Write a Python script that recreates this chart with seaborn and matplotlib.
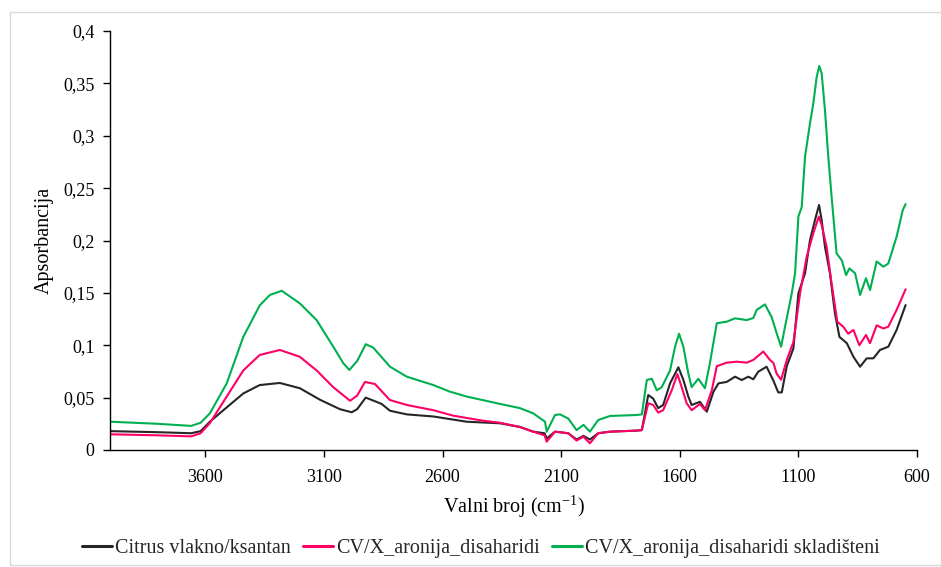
import numpy as np
import pandas as pd
import matplotlib
matplotlib.use("Agg")
import matplotlib.pyplot as plt
import matplotlib.ticker as mticker
from matplotlib.patches import Rectangle
from matplotlib.lines import Line2D
import seaborn as sns

# ---------------- data ----------------
series_names = ["Citrus vlakno/ksantan", "CV/X_aronija_disaharidi",
                "CV/X_aronija_disaharidi skladišteni"]
series_colors = ["#262626", "#FF0066", "#00B050"]

wn_black = [4000, 3800, 3660, 3620, 3581, 3524, 3440, 3371, 3286, 3202, 3117, 3033,
            2983, 2960, 2924, 2890, 2857, 2822, 2751, 2639, 2498, 2358, 2274, 2218,
            2170, 2161, 2126, 2070, 2035, 2006, 1979, 1944, 1894, 1782, 1760, 1733,
            1712, 1691, 1670, 1641, 1606, 1585, 1564, 1550, 1515, 1486, 1458, 1437,
            1402, 1367, 1339, 1311, 1290, 1269, 1234, 1205, 1185, 1170, 1149, 1121,
            1100, 1072, 1051, 1030, 1013, 1002, 988, 967, 946, 927, 896, 868, 840,
            812, 784, 756, 721, 686, 648]
ab_black = [0.018, 0.017, 0.016, 0.018, 0.027, 0.038, 0.054, 0.062, 0.064, 0.059, 0.048, 0.039,
            0.036, 0.039, 0.050, 0.047, 0.044, 0.0375, 0.034, 0.032, 0.027, 0.0255, 0.022, 0.0175,
            0.016, 0.011, 0.0175, 0.016, 0.010, 0.0135, 0.010, 0.016, 0.0175, 0.0185, 0.019, 0.0525,
            0.049, 0.040, 0.043, 0.0636, 0.079, 0.067, 0.051, 0.043, 0.046, 0.0366, 0.0557, 0.0636,
            0.065, 0.070, 0.0668, 0.070, 0.0675, 0.0748, 0.0795, 0.066, 0.055, 0.055, 0.080, 0.097,
            0.1496, 0.1687, 0.2005, 0.2196, 0.2339, 0.2196, 0.194, 0.1687, 0.1305, 0.108, 0.102, 0.089, 0.0795,
            0.0875, 0.0875, 0.0955, 0.0986, 0.1146, 0.1384]

wn_pink = [4000, 3800, 3660, 3620, 3581, 3510, 3440, 3371, 3286, 3202, 3131, 3061,
           2990, 2960, 2927, 2885, 2822, 2751, 2639, 2556, 2430, 2358, 2274, 2218,
           2170, 2161, 2126, 2070, 2035, 2006, 1979, 1944, 1894, 1782, 1760, 1733,
           1712, 1691, 1670, 1634, 1610, 1592, 1571, 1550, 1515, 1494, 1465, 1444,
           1402, 1360, 1318, 1290, 1248, 1220, 1205, 1192, 1173, 1149, 1121, 1093,
           1065, 1037, 1014, 1002, 981, 960, 936, 911, 890, 868, 843, 815, 798,
           770, 742, 721, 686, 648]
ab_pink = [0.015, 0.014, 0.013, 0.016, 0.0257, 0.051, 0.076, 0.0907, 0.0955, 0.089, 0.076, 0.060,
           0.047, 0.052, 0.065, 0.063, 0.0477, 0.043, 0.038, 0.0328, 0.028, 0.026, 0.022, 0.0175,
           0.014, 0.008, 0.0175, 0.016, 0.009, 0.0127, 0.0064, 0.016, 0.0175, 0.0185, 0.019, 0.0446,
           0.043, 0.0357, 0.038, 0.057, 0.0725, 0.060, 0.0446, 0.038, 0.044, 0.038, 0.057, 0.080,
           0.0834, 0.0843, 0.0834, 0.086, 0.094, 0.086, 0.083, 0.073, 0.067, 0.086, 0.103, 0.1496,
           0.1845, 0.207, 0.2228, 0.2148, 0.194, 0.159, 0.1225, 0.1177, 0.111, 0.1146, 0.100, 0.1098, 0.102,
           0.119, 0.116, 0.1177, 0.1337, 0.1534]

wn_green = [4000, 3800, 3660, 3620, 3581, 3510, 3440, 3371, 3328, 3278, 3202, 3131,
            3061, 3019, 2993, 2960, 2924, 2892, 2822, 2751, 2639, 2569, 2498, 2358,
            2274, 2218, 2168, 2161, 2126, 2105, 2070, 2035, 2006, 1979, 1944, 1894,
            1782, 1760, 1739, 1718, 1697, 1676, 1641, 1620, 1603, 1585, 1564, 1550,
            1522, 1494, 1473, 1444, 1402, 1367, 1318, 1290, 1276, 1241, 1213, 1191,
            1173, 1156, 1128, 1114, 1100, 1086, 1072, 1051, 1037, 1023, 1012, 1002,
            988, 974, 960, 939, 917, 899, 885, 861, 840, 815, 798, 770, 742, 721,
            686, 660, 648]
ab_green = [0.027, 0.025, 0.023, 0.026, 0.035, 0.0636, 0.108, 0.138, 0.148, 0.152, 0.140, 0.124,
            0.0987, 0.083, 0.0764, 0.085, 0.101, 0.0977, 0.0796, 0.070, 0.062, 0.0557, 0.051, 0.044,
            0.040, 0.035, 0.027, 0.0175, 0.0334, 0.034, 0.030, 0.019, 0.024, 0.0175, 0.0286, 0.0325,
            0.0334, 0.034, 0.0668, 0.068, 0.057, 0.060, 0.076, 0.0986, 0.111, 0.0986, 0.073, 0.060,
            0.068, 0.059, 0.083, 0.121, 0.1225, 0.1257, 0.124, 0.126, 0.1337, 0.139, 0.127, 0.111,
            0.0986, 0.118, 0.1496, 0.1687, 0.2228, 0.232, 0.280, 0.312, 0.331, 0.356, 0.3666, 0.3596,
            0.3246, 0.280, 0.2418, 0.1877, 0.181, 0.167, 0.1734, 0.1687, 0.148, 0.164, 0.1527, 0.180, 0.175, 0.178,
            0.2036, 0.229, 0.2348]

x_ticks = [3600, 3100, 2600, 2100, 1600, 1100, 600]
y_ticks = [0, 0.05, 0.1, 0.15, 0.2, 0.25, 0.3, 0.35, 0.4]

# ---------------- build long table ----------------
frames = []
for name, wn, ab in zip(series_names, [wn_black, wn_pink, wn_green],
                        [ab_black, ab_pink, ab_green]):
    frames.append(pd.DataFrame({"wn": wn, "ab": ab, "series": name}))
df = pd.concat(frames, ignore_index=True)

# ---------------- style ----------------
sns.set_theme(style="white")
plt.rcParams["font.family"] = ["Liberation Serif", "DejaVu Serif"]
plt.rcParams["mathtext.fontset"] = "custom"
plt.rcParams["mathtext.rm"] = "Liberation Serif"
plt.rcParams["mathtext.it"] = "Liberation Serif:italic"

fig = plt.figure(figsize=(9.41, 5.67), dpi=100)
ax = fig.add_axes([110 / 941, 1 - 450 / 567, (917 - 110) / 941, (450 - 31) / 567])

sns.lineplot(data=df, x="wn", y="ab", hue="series", hue_order=series_names,
             palette=series_colors, sort=False, estimator=None, linewidth=1.5,
             ax=ax, legend=False)

ax.set_xlim(4002, 600)
ax.set_ylim(0, 0.4)
ax.set_xticks(x_ticks)
ax.set_yticks(y_ticks)
ax.yaxis.set_major_formatter(mticker.FuncFormatter(
    lambda v, p: f"{v:g}".replace(".", ",")))
ax.xaxis.set_major_formatter(mticker.FuncFormatter(lambda v, p: f"{int(round(v))}"))

for s in ["top", "right"]:
    ax.spines[s].set_visible(False)
for s in ["left", "bottom"]:
    ax.spines[s].set_color("black")
    ax.spines[s].set_linewidth(1.0)
ax.tick_params(axis="both", direction="out", length=5, width=1, color="black",
               labelsize=13, labelcolor="black", bottom=True, left=True, pad=9)
ax.tick_params(axis="y", pad=6)

ax.set_xlabel("Valni broj (cm$^{-1}$)", fontsize=14.5, color="black", labelpad=5)
ax.set_ylabel("Apsorbancija", fontsize=14.5, color="black", labelpad=7)
ax.grid(False)

# legend
handles = [Line2D([0], [0], color=c, lw=2.2) for c in series_colors]
fig.legend(handles, series_names, loc="center", bbox_to_anchor=(481 / 941, 1 - 548 / 567),
           ncol=3, frameon=False, fontsize=14.5, handlelength=1.5,
           handletextpad=0.15, columnspacing=0.6)

# chart-area border
fig.patches.append(Rectangle((10 / 941, 2 / 567), 1.0, 1 - 12 / 567 - 2 / 567,
                             transform=fig.transFigure, fill=False,
                             edgecolor="#d9d9d9", linewidth=1.0))

fig.savefig("out.png", dpi=100)
